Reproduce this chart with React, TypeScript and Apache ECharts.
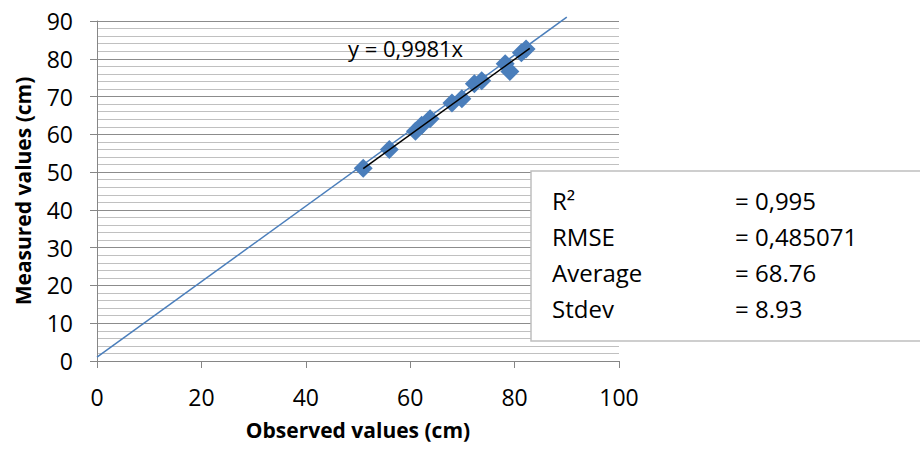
import React, { useEffect, useRef } from "react";
import * as echarts from "echarts";

const observed = [51, 56, 61, 62.2, 63.8, 68, 69.9, 72.3, 73.7, 78.2, 79.1, 81.3, 82.2];
const measured = [51, 56, 60.8, 62.4, 64.1, 68.3, 69.4, 73.4, 74.2, 78.7, 76.6, 81.6, 82.6];
const trendX = [51, 82.9];
const trendY = [50.9, 82.74];
const refX = [0, 90];
const refY = [1, 91];
const xTicks = [0, 20, 40, 60, 80, 100];
const yTicks = [0, 10, 20, 30, 40, 50, 60, 70, 80, 90];
const statNames = ["R²", "RMSE", "Average", "Stdev"];
const statValues = ["= 0,995", "= 0,485071", "= 68.76", "= 8.93"];
const trendLabel = "y = 0,9981x";

const FONT = "'Open Sans', sans-serif";

export default function App() {
  const ref = useRef<HTMLDivElement>(null);
  useEffect(() => {
    if (!ref.current) return;
    const chart = echarts.init(ref.current, undefined, { renderer: "svg" });
    const grid = { left: 97, right: 301, top: 21, bottom: 91 };
    const rowTop = [200, 236, 272, 308];
    chart.setOption({
      animation: false,
      backgroundColor: "#ffffff",
      grid,
      xAxis: {
        type: "value",
        min: xTicks[0],
        max: xTicks[xTicks.length - 1],
        interval: 20,
        name: "Observed values (cm)",
        nameLocation: "middle",
        nameGap: 58,
        nameTextStyle: { fontFamily: FONT, fontWeight: "bold", fontSize: 21, color: "#000" },
        axisLine: { show: true, lineStyle: { color: "#868686", width: 1 } },
        axisTick: { show: true, length: 7, lineStyle: { color: "#868686" } },
        axisLabel: { fontFamily: FONT, fontSize: 23, color: "#000", margin: 24 },
        splitLine: { show: false },
      },
      yAxis: {
        type: "value",
        min: yTicks[0],
        max: yTicks[yTicks.length - 1],
        interval: 10,
        name: "Measured values (cm)",
        nameLocation: "middle",
        nameGap: 64,
        nameTextStyle: { fontFamily: FONT, fontWeight: "bold", fontSize: 21, color: "#000" },
        axisLine: { show: true, lineStyle: { color: "#868686", width: 1 } },
        axisTick: { show: true, length: 7, lineStyle: { color: "#868686" } },
        axisLabel: { fontFamily: FONT, fontSize: 23, color: "#000", margin: 24 },
        splitLine: { show: true, lineStyle: { color: "#8c8c8c", width: 1 } },
        minorTick: { show: false, splitNumber: 5 },
        minorSplitLine: { show: true, lineStyle: { color: "#c0c0c0", width: 1 } },
      },
      series: [
        {
          type: "line",
          data: refX.map((x, i) => [x, refY[i]]),
          symbol: "none",
          clip: false,
          lineStyle: { color: "#4a7ebb", width: 1.5 },
          z: 2,
        },
        {
          type: "scatter",
          data: observed.map((x, i) => [x, measured[i]]),
          symbol: "diamond",
          symbolSize: 19,
          itemStyle: { color: "#4a7ebb", opacity: 1 },
          z: 3,
        },
        {
          type: "line",
          data: trendX.map((x, i) => [x, trendY[i]]),
          symbol: "none",
          lineStyle: { color: "#000000", width: 1.5 },
          z: 4,
        },
      ],
      graphic: [
        {
          type: "text",
          x: 348,
          y: 48,
          z: 10,
          style: { text: trendLabel, fontFamily: FONT, fontSize: 22, fill: "#000", verticalAlign: "middle" },
        },
        {
          type: "rect",
          z: 20,
          shape: { x: 531, y: 171, width: 420, height: 170 },
          style: { fill: "#ffffff", stroke: "#bfbfbf", lineWidth: 1.5 },
        },
        ...statNames.map((n, i) => ({
          type: "text",
          z: 21,
          x: 552,
          y: rowTop[i],
          style: { text: n, fontFamily: FONT, fontSize: 24, fill: "#000", verticalAlign: "middle" },
        })),
        ...statValues.map((v, i) => ({
          type: "text",
          z: 21,
          x: 735,
          y: rowTop[i],
          style: { text: v, fontFamily: FONT, fontSize: 24, fill: "#000", verticalAlign: "middle" },
        })),
      ],
    });
    return () => chart.dispose();
  }, []);
  return <div ref={ref} style={{ width: 920, height: 452, position: "absolute", left: 0, top: 0 }} />;
}
